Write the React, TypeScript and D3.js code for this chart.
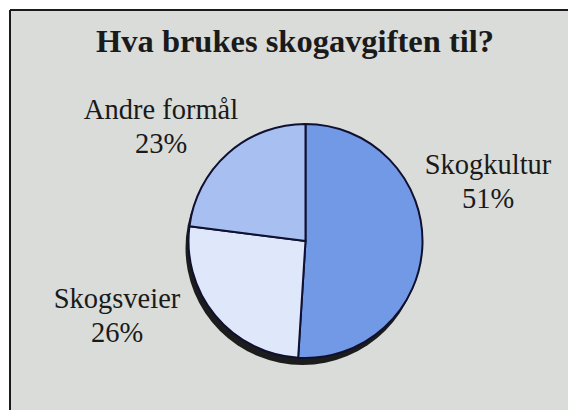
import React from "react";
import * as d3 from "d3";

const categories = ["Skogkultur", "Skogsveier", "Andre formål"];
const values = [51, 26, 23];
const colors = ["#7299e6", "#dfe8fb", "#a7bff1"];
const labelPos: [number, number][] = [[488, 174], [117, 308], [161, 119]];
const title = "Hva brukes skogavgiften til?";

const serif = "'Liberation Serif', 'Times New Roman', Times, serif";

export default function App() {
  const W = 568, H = 410;
  const cx = 305.5, cy = 241, r = 117;
  const pie = d3.pie<number>().sort(null).value((d) => d)(values);
  const arc = d3.arc<d3.PieArcDatum<number>>().innerRadius(0).outerRadius(r);
  return (
    <svg width={W} height={H} style={{ position: "absolute", left: 0, top: 0 }}>
      <rect x={0} y={0} width={W} height={H} fill="#ffffff" />
      <rect x={11} y={11} width={W} height={H} fill="#d9dcd9" />
      <line x1={10} y1={10} x2={W} y2={10} stroke="#1a1a1a" strokeWidth={2} />
      <line x1={10} y1={10} x2={10} y2={H} stroke="#1a1a1a" strokeWidth={2} />
      <text x={96} y={52} textLength={398} lengthAdjust="spacingAndGlyphs" style={{ fontFamily: serif }} fontWeight="bold" fontSize={31} fill="#1a1a1a">
        {title}
      </text>
      <circle cx={cx - 3} cy={cy + 7} r={r} fill="#1c1c1c" />
      <g transform={`translate(${cx},${cy})`}>
        {pie.map((p, i) => (
          <path key={i} d={arc(p) || ""} fill={colors[i]} stroke="#101030" strokeWidth={2} strokeLinejoin="round" />
        ))}
      </g>
      {categories.map((c, i) => (
        <text key={c} x={labelPos[i][0]} y={labelPos[i][1]} textAnchor="middle" style={{ fontFamily: serif }} fontSize={28.5} fill="#1a1a1a">
          <tspan x={labelPos[i][0]}>{c}</tspan>
          <tspan x={labelPos[i][0]} dy={34}>{values[i]}%</tspan>
        </text>
      ))}
    </svg>
  );
}
